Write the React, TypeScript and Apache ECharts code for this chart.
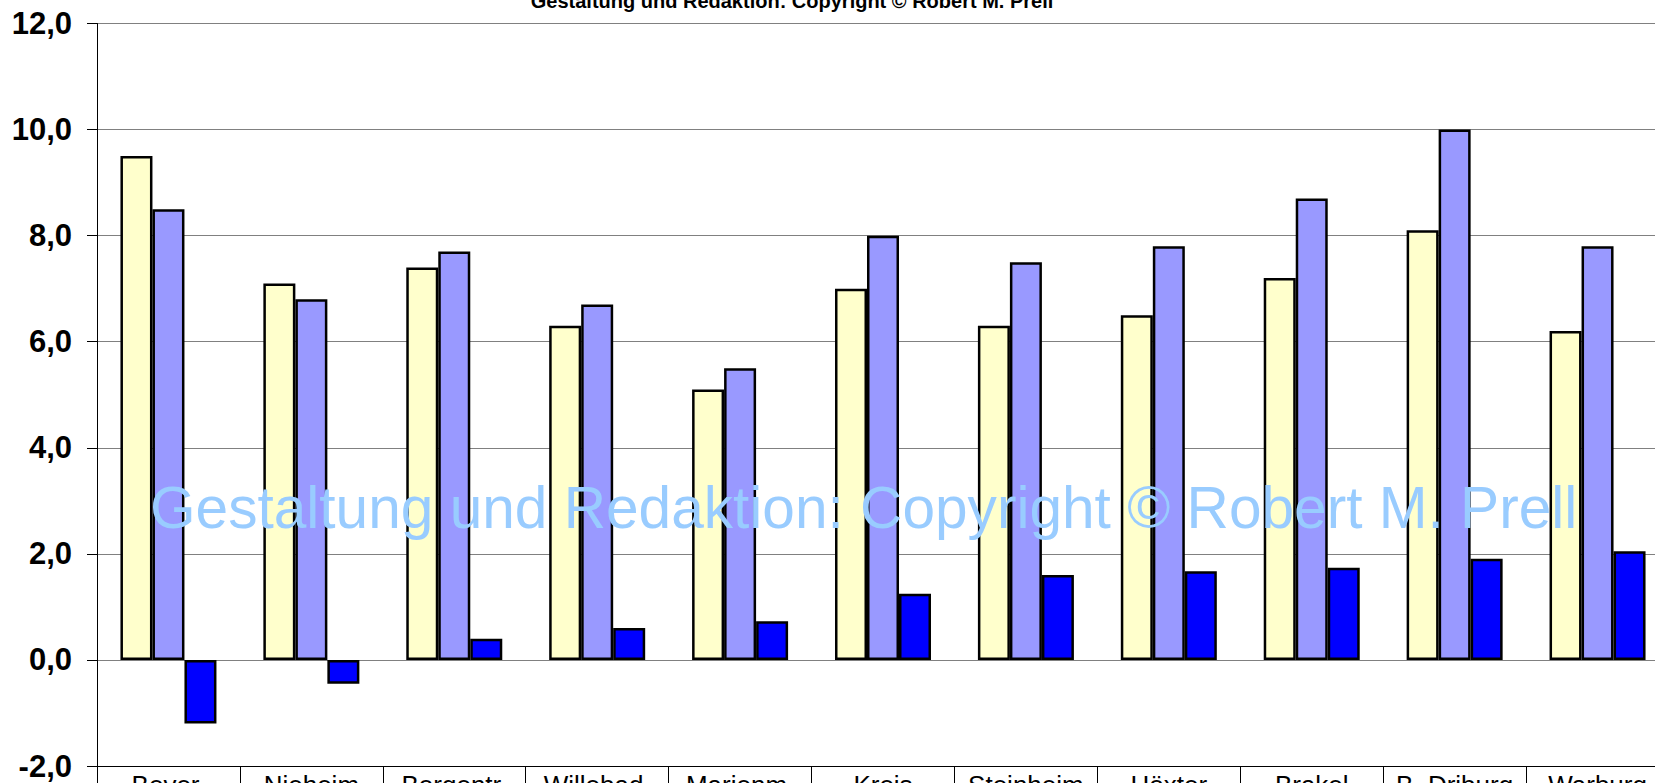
import React, { useEffect, useRef } from "react";
import * as echarts from "echarts";

const categories = ["Bever.", "Nieheim", "Borgentr.", "Willebad.", "Marienm.", "Kreis", "Steinheim", "Höxter", "Brakel", "B. Driburg", "Warburg"];
const seriesNames = ["Reihe 1", "Reihe 2", "Reihe 3"];
const valuesA = [9.5, 7.1, 7.4, 6.3, 5.1, 7.0, 6.3, 6.5, 7.2, 8.1, 6.2];
const valuesB = [8.5, 6.8, 7.7, 6.7, 5.5, 8.0, 7.5, 7.8, 8.7, 10.0, 7.8];
const valuesC = [-1.2, -0.45, 0.4, 0.6, 0.73, 1.25, 1.6, 1.67, 1.74, 1.91, 2.05];
const yMin = -2;
const yMax = 12;
const yStep = 2;
const titleText = "Gestaltung und Redaktion: Copyright © Robert M. Prell";
const watermarkText = "Gestaltung und Redaktion: Copyright © Robert M. Prell";

const FONT = "'Liberation Sans', Arial, sans-serif";

export default function App() {
  const ref = useRef<HTMLDivElement>(null);
  useEffect(() => {
    if (!ref.current) return;
    const chart = echarts.init(ref.current, null, { renderer: "svg" });
    const colors = ["#FFFFCC", "#9999FF", "#0000FF"];
    const data = [valuesA, valuesB, valuesC];
    chart.setOption({
      animation: false,
      backgroundColor: "#ffffff",
      grid: { left: 97, top: 23.5, width: 1572, height: 742.5, containLabel: false, outerBoundsMode: "none" },
      xAxis: {
        type: "category",
        data: categories,
        axisLine: { show: true, onZero: false, lineStyle: { color: "#000000", width: 1 } },
        axisTick: { show: true, inside: false, length: 30, alignWithLabel: false, lineStyle: { color: "#000000", width: 1 } },
        axisLabel: { color: "#000000", fontFamily: FONT, fontSize: 26, margin: 6, interval: 0 },
        splitLine: { show: false },
      },
      yAxis: {
        type: "value",
        min: yMin,
        max: yMax,
        interval: yStep,
        axisLine: { show: true, lineStyle: { color: "#000000", width: 1 } },
        axisTick: { show: true, inside: false, length: 10, lineStyle: { color: "#000000", width: 1 } },
        axisLabel: {
          color: "#000000",
          fontFamily: FONT,
          fontWeight: "bold",
          fontSize: 31,
          margin: 25,
          formatter: (v: number) => v.toFixed(1).replace(".", ","),
        },
        splitLine: { show: true, lineStyle: { color: "#808080", width: 1 } },
      },
      series: data.map((d, i) => ({
        type: "bar",
        name: seriesNames[i],
        data: d,
        barWidth: 32,
        barGap: "0%",
        itemStyle: { color: colors[i], borderColor: "#000000", borderWidth: 2.5 },
        z: 3,
      })),
      graphic: [
        {
          type: "text",
          x: 792,
          y: 1,
          z: 10,
          style: {
            text: titleText,
            font: `bold 20px ${FONT}`,
            fill: "#000000",
            textAlign: "center",
            textVerticalAlign: "middle",
          },
        },
        {
          type: "text",
          x: 150,
          y: 507,
          z: 100,
          style: {
            text: watermarkText,
            font: `58.6px ${FONT}`,
            fill: "#99CCFF",
            textAlign: "left",
            textVerticalAlign: "middle",
          },
        },
      ],
    });
    return () => chart.dispose();
  }, []);
  return (
    <div
      ref={ref}
      style={{ position: "fixed", left: 0, top: 0, width: 1655, height: 783, background: "#fff" }}
    />
  );
}
